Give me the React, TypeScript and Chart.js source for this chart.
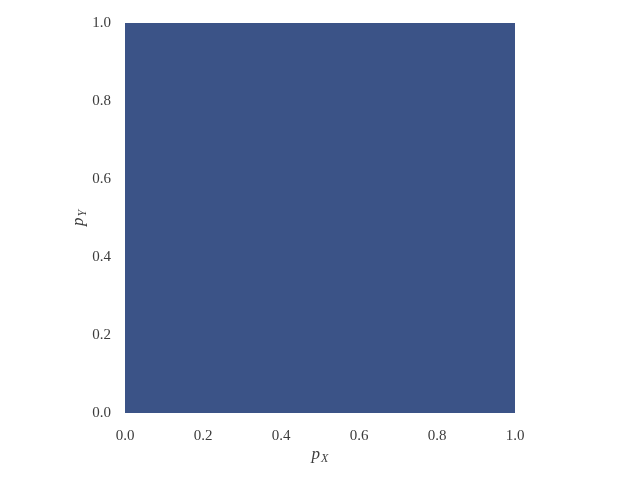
import React, { useEffect, useRef } from "react";
import { Chart, registerables } from "chart.js";

Chart.register(...registerables);

const xRange = [0, 1];
const yRange = [0, 1];
const tickValues = [0, 0.2, 0.4, 0.6, 0.8, 1.0];
const fillXs = [0, 1];
const fillYs = [1, 1];
const xTitle = { base: "p", sub: "X" };
const yTitle = { base: "p", sub: "Y" };
const fillColor = "#3b5387";
const textColor = "#3c3c3c";
const FONT = "'Liberation Serif', 'DejaVu Serif', serif";

const titlePlugin = {
  id: "subTitles",
  afterDraw(chart: any) {
    const { ctx, chartArea } = chart;
    const drawLabel = (t: { base: string; sub: string }) => {
      ctx.font = `italic 17px ${FONT}`;
      const bw = ctx.measureText(t.base).width;
      ctx.font = `italic 12px ${FONT}`;
      const sw = ctx.measureText(t.sub).width;
      const total = bw + sw + 1;
      ctx.fillStyle = textColor;
      ctx.textBaseline = "alphabetic";
      ctx.textAlign = "left";
      ctx.font = `italic 17px ${FONT}`;
      ctx.fillText(t.base, -total / 2, 0);
      ctx.font = `italic 12px ${FONT}`;
      ctx.fillText(t.sub, -total / 2 + bw + 1, 3);
    };
    ctx.save();
    ctx.translate((chartArea.left + chartArea.right) / 2, chartArea.bottom + 46);
    drawLabel(xTitle);
    ctx.restore();
    ctx.save();
    ctx.translate(chartArea.left - 42, (chartArea.top + chartArea.bottom) / 2);
    ctx.rotate(-Math.PI / 2);
    drawLabel(yTitle);
    ctx.restore();
  },
};

export default function App() {
  const ref = useRef<HTMLCanvasElement>(null);
  useEffect(() => {
    if (!ref.current) return;
    const chart = new Chart(ref.current, {
      type: "line",
      data: {
        datasets: [
          {
            data: fillXs.map((x, i) => ({ x, y: fillYs[i] })),
            fill: "origin",
            backgroundColor: fillColor,
            borderWidth: 0,
            borderColor: fillColor,
            pointRadius: 0,
          },
        ],
      },
      options: {
        animation: false,
        responsive: false,
        layout: { padding: { top: 23, right: 125, left: 0, bottom: 0 } },
        plugins: { legend: { display: false }, tooltip: { enabled: false } },
        scales: {
          x: {
            type: "linear",
            min: xRange[0],
            max: xRange[1],
            grid: { display: false, drawTicks: false },
            border: { display: false },
            afterBuildTicks: (s: any) => {
              s.ticks = tickValues.map((v) => ({ value: v }));
            },
            afterFit: (s: any) => {
              s.height = 67;
            },
            ticks: {
              padding: 14,
              color: textColor,
              font: { family: FONT, size: 15 },
              maxRotation: 0,
              callback: (v: any) => Number(v).toFixed(1),
            },
          },
          y: {
            type: "linear",
            min: yRange[0],
            max: yRange[1],
            grid: { display: false, drawTicks: false },
            border: { display: false },
            afterBuildTicks: (s: any) => {
              s.ticks = tickValues.map((v) => ({ value: v }));
            },
            afterFit: (s: any) => {
              s.width = 125;
            },
            ticks: {
              padding: 14,
              color: textColor,
              font: { family: FONT, size: 15 },
              callback: (v: any) => Number(v).toFixed(1),
            },
          },
        },
      },
      plugins: [titlePlugin],
    });
    return () => chart.destroy();
  }, []);
  return (
    <div style={{ position: "fixed", left: 0, top: 0, width: 640, height: 480, background: "#fff" }}>
      <canvas ref={ref} width={640} height={480} style={{ width: 640, height: 480 }} />
    </div>
  );
}
